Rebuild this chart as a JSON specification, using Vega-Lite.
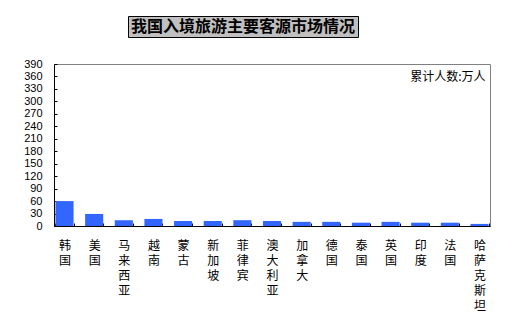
{
  "$schema": "https://vega.github.io/schema/vega-lite/v6.json",
  "background": "white",
  "padding": {"left": 23, "top": 15, "right": 0, "bottom": 0},
  "spacing": 19,
  "config": {
    "axis": {"domainColor": "black", "tickColor": "black", "labelColor": "black", "grid": false, "title": null},
    "axisQuantitative": {"labelOverlap": false},
    "text": {"color": "black"}
  },
  "vconcat": [
    {
      "spacing": 0,
      "hconcat": [
        {"width": 73, "height": 21, "data": {"values": []}, "mark": "point", "view": {"stroke": null}},
        {
          "width": 230, "height": 21,
          "data": {"values": [{"t": "我国入境旅游主要客源市场情况"}]},
          "mark": {"type": "text", "font": "Noto Sans CJK SC", "fontSize": 16, "fontWeight": "bold", "color": "black", "baseline": "middle"},
          "encoding": {"text": {"field": "t"}},
          "view": {"fill": "#C0C0C0", "stroke": "black", "strokeWidth": 1}
        }
      ]
    },
    {
      "width": 436, "height": 162,
      "view": {"stroke": "#808080"},
      "data": {"values": [
        {"country": "韩国", "value": 60},
        {"country": "美国", "value": 29},
        {"country": "马来西亚", "value": 14},
        {"country": "越南", "value": 17},
        {"country": "蒙古", "value": 12},
        {"country": "新加坡", "value": 12},
        {"country": "菲律宾", "value": 14},
        {"country": "澳大利亚", "value": 12},
        {"country": "加拿大", "value": 10},
        {"country": "德国", "value": 10},
        {"country": "泰国", "value": 8},
        {"country": "英国", "value": 10},
        {"country": "印度", "value": 8},
        {"country": "法国", "value": 8},
        {"country": "哈萨克斯坦", "value": 5}
      ]},
      "layer": [
        {
          "mark": {"type": "bar", "color": "#3366FF"},
          "encoding": {
            "x": {
              "field": "country", "type": "nominal", "sort": null,
              "scale": {"paddingInner": 0.39, "paddingOuter": 0.05},
              "axis": {
                "labelAngle": 0, "labelExpr": "split(datum.label, '')",
                "labelFont": "Noto Sans CJK SC", "labelFontSize": 12, "labelLineHeight": 15,
                "labelBaseline": "top", "labelPadding": 17, "tickSize": -3, "tickBand": "extent",
                "labelOverlap": false
              }
            },
            "y": {
              "field": "value", "type": "quantitative",
              "scale": {"domain": [0, 390], "nice": false},
              "axis": {
                "values": [0, 30, 60, 90, 120, 150, 180, 210, 240, 270, 300, 330, 360, 390],
                "labelFont": "Liberation Sans", "labelFontSize": 11, "labelPadding": 15,
                "labelOverlap": false, "labelFlush": false, "labelBound": false,
                "tickSize": -3, "minExtent": 30, "maxExtent": 30
              }
            }
          }
        },
        {
          "data": {"values": [{"note": "累计人数:万人"}]},
          "mark": {"type": "text", "font": "Noto Sans CJK SC", "fontSize": 12, "align": "right", "baseline": "middle", "dx": -3},
          "encoding": {
            "x": {"datum": "哈萨克斯坦", "bandPosition": 1},
            "y": {
              "datum": 358, "type": "quantitative",
              "scale": {"domain": [0, 390], "nice": false},
              "axis": {
                "values": [0, 30, 60, 90, 120, 150, 180, 210, 240, 270, 300, 330, 360, 390],
                "labelFont": "Liberation Sans", "labelFontSize": 11, "labelPadding": 15,
                "labelOverlap": false, "labelFlush": false, "labelBound": false,
                "tickSize": -3, "minExtent": 30, "maxExtent": 30
              }
            },
            "text": {"field": "note"}
          }
        }
      ]
    }
  ]
}
